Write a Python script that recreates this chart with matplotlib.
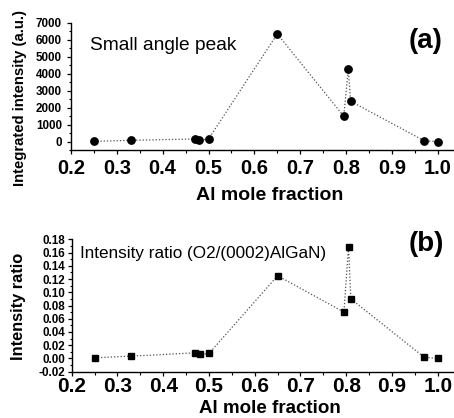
import matplotlib
matplotlib.use("Agg")
import matplotlib.pyplot as plt
from matplotlib.ticker import MultipleLocator, FormatStrFormatter

plt.rcParams['font.family'] = ['Liberation Sans', 'DejaVu Sans']

# Al mole fraction of each sample
al_fraction = [0.25, 0.33, 0.47, 0.48, 0.50, 0.65, 0.795, 0.805, 0.81, 0.97, 1.0]
# (a) integrated intensity of the small angle peak (a.u.)
integrated_intensity = [20, 80, 160, 80, 160, 6340, 1500, 4250, 2380, 60, 0]
# (b) intensity ratio O2/(0002)AlGaN
intensity_ratio = [0.001, 0.0035, 0.0085, 0.006, 0.0075, 0.125, 0.070,
                   0.169, 0.090, 0.002, 0.0]

x_ticks = [0.2, 0.3, 0.4, 0.5, 0.6, 0.7, 0.8, 0.9, 1.0]

W, H = 454, 418
fig = plt.figure(figsize=(W / 100, H / 100), dpi=100)


def px_axes(left, top, right, bottom):
    return fig.add_axes([left / W, 1 - bottom / H, (right - left) / W, (bottom - top) / H])


def px_text(x, y, s, **kw):
    fig.text(x / W, 1 - y / H, s, **kw)


def style_axes(ax, ylab_pad, xlab_pad, xlab_size):
    for side in ('top', 'right'):
        ax.spines[side].set_visible(False)
    for side in ('left', 'bottom'):
        ax.spines[side].set_linewidth(1.0)
    ax.set_xlim(0.2, 1.0355)
    ax.set_xticks(x_ticks)
    ax.xaxis.set_major_formatter(FormatStrFormatter('%.1f'))
    ax.xaxis.set_minor_locator(MultipleLocator(0.05))
    ax.tick_params(which='major', direction='out', length=3.2, width=0.9)
    ax.tick_params(which='minor', direction='out', length=1.8, width=0.8)
    ax.tick_params(axis='x', which='major', labelsize=xlab_size, pad=xlab_pad)
    ax.tick_params(axis='y', which='major', labelsize=8.4, pad=ylab_pad)
    for lab in ax.get_xticklabels() + ax.get_yticklabels():
        lab.set_fontweight('bold')


line_kw = dict(color='#505050', linewidth=0.9, linestyle=(0, (1, 1.6)))

# (a) integrated intensity
ax1 = px_axes(71, 22.7, 454, 150.2)
ax1.plot(al_fraction, integrated_intensity, marker='o', markersize=5.3,
         markerfacecolor='black', markeredgecolor='black', **line_kw)
ax1.set_ylim(-500, 7000)
ax1.yaxis.set_major_locator(MultipleLocator(1000))
ax1.yaxis.set_minor_locator(MultipleLocator(500))
style_axes(ax1, ylab_pad=3.4, xlab_pad=3.4, xlab_size=14.5)

# (b) intensity ratio
ax2 = px_axes(71.7, 239.3, 454, 371.7)
ax2.plot(al_fraction, intensity_ratio, marker='s', markersize=4.1,
         markerfacecolor='black', markeredgecolor='black', **line_kw)
ax2.set_ylim(-0.02, 0.18)
ax2.yaxis.set_major_locator(MultipleLocator(0.02))
ax2.yaxis.set_minor_locator(MultipleLocator(0.01))
ax2.yaxis.set_major_formatter(FormatStrFormatter('%.2f'))
style_axes(ax2, ylab_pad=1.2, xlab_pad=0.8, xlab_size=15)

# annotations and axis titles
px_text(90, 49.5, 'Small angle peak', fontsize=13.8, va='baseline', ha='left')
px_text(426, 40.5, '(a)', fontsize=20, fontweight='bold', ha='center', va='center')
px_text(80, 258, 'Intensity ratio (O2/(0002)AlGaN)', fontsize=12.3,
        va='baseline', ha='left')
px_text(426, 244, '(b)', fontsize=20, fontweight='bold', ha='center', va='center')

px_text(270, 200, 'Al mole fraction', fontsize=14, fontweight='bold',
        ha='center', va='baseline')
px_text(270, 417, 'Al mole fraction', fontsize=13.5, fontweight='bold',
        ha='center', va='bottom')

px_text(20.5, 98.5, 'Integrated intensity (a.u.)', fontsize=10.7, fontweight='bold',
        rotation=90, ha='center', va='center')
px_text(19, 306, 'Intensity ratio', fontsize=11.8, fontweight='bold',
        rotation=90, ha='center', va='center')

fig.savefig('out.png', dpi=100)
